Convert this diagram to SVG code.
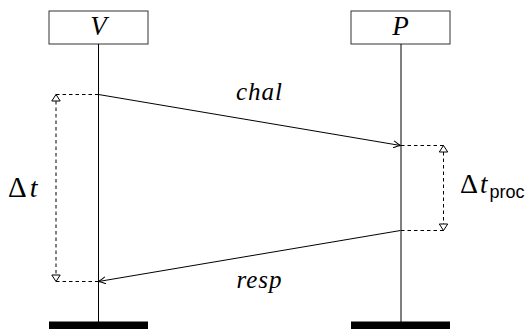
<svg xmlns="http://www.w3.org/2000/svg" width="526" height="329" viewBox="0 0 526 329">
<defs>
<style>
.box{fill:#fff;stroke:#333;stroke-width:1}
.life{stroke:#000;stroke-width:1;fill:none}
.msg{stroke:#000;stroke-width:1;fill:none;marker-end:url(#to)}
.dash{stroke:#000;stroke-width:1;fill:none;stroke-dasharray:3.5 3}
.meas{stroke:#000;stroke-width:1;fill:none;stroke-dasharray:3.5 3;marker-start:url(#tri);marker-end:url(#tri)}
.bar{fill:#000}
.lbl{font-family:"Liberation Serif","DejaVu Serif",serif;font-style:italic;fill:#000}
.math{font-family:"Liberation Serif","DejaVu Serif",serif;fill:#000}
.sub{font-family:"Liberation Sans","DejaVu Sans",sans-serif;fill:#000}
</style>
<marker id="to" viewBox="-8 -4 9 8" refX="0" refY="0" markerWidth="9" markerHeight="8" markerUnits="userSpaceOnUse" orient="auto">
<path d="M -7 -3.5 Q -2.5 -0.8 0 0 Q -2.5 0.8 -7 3.5" fill="none" stroke="#000" stroke-width="1"/>
</marker>
<marker id="tri" viewBox="-8 -5 9 10" refX="0" refY="0" markerWidth="9" markerHeight="10" markerUnits="userSpaceOnUse" orient="auto-start-reverse">
<path d="M 0 0 L -6.5 -4.2 L -6.5 4.2 Z" fill="#fff" stroke="#000" stroke-width="1"/>
</marker>
</defs>
<g id="V">
<rect class="box" x="49" y="11" width="99" height="33"/>
<text class="lbl" x="98.5" y="34.5" font-size="27" text-anchor="middle">V</text>
<line class="life" x1="98.5" y1="44" x2="98.5" y2="322"/>
<rect class="bar" x="49" y="321.5" width="99" height="8"/>
</g>
<g id="P">
<rect class="box" x="351" y="11" width="99" height="33"/>
<text class="lbl" x="400.5" y="34.5" font-size="27" text-anchor="middle">P</text>
<line class="life" x1="401" y1="44" x2="401" y2="322"/>
<rect class="bar" x="351" y="321.5" width="99" height="8"/>
</g>
<g id="connectors">
<line class="msg" x1="98.5" y1="94.5" x2="400.5" y2="145.5"/>
<line class="msg" x1="400.5" y1="230.5" x2="98.5" y2="281.5"/>
<line class="dash" x1="56" y1="94.5" x2="98.5" y2="94.5"/>
<line class="dash" x1="56" y1="281.5" x2="98.5" y2="281.5"/>
<line class="meas" x1="56" y1="94.5" x2="56" y2="281.5"/>
<line class="dash" x1="401" y1="145.5" x2="443.5" y2="145.5"/>
<line class="dash" x1="401" y1="230.5" x2="443.5" y2="230.5"/>
<line class="meas" x1="443.5" y1="145.5" x2="443.5" y2="230.5"/>
</g>
<g id="labels">
<text class="lbl" x="259.5" y="100" font-size="25" text-anchor="middle" letter-spacing="1">chal</text>
<text class="lbl" x="259.5" y="288" font-size="25" text-anchor="middle" letter-spacing="1">resp</text>
<text x="8" y="197" font-size="28"><tspan class="math" font-size="29">Δ</tspan><tspan class="lbl" dx="3">t</tspan></text>
<text x="460" y="193" font-size="27"><tspan class="math" font-size="28">Δ</tspan><tspan class="lbl" dx="2">t</tspan><tspan class="sub" font-size="18" dx="2" dy="5">proc</tspan></text>
</g>
</svg>
